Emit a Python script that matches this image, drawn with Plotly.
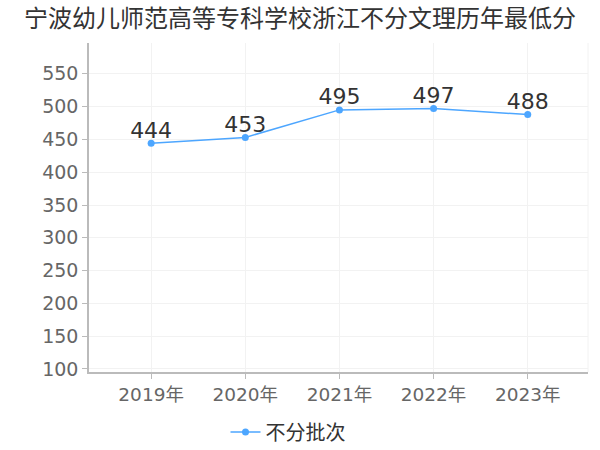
import plotly.graph_objects as go

title = "宁波幼儿师范高等专科学校浙江不分文理历年最低分"
years = ["2019年", "2020年", "2021年", "2022年", "2023年"]
scores = [444, 453, 495, 497, 488]
series_name = "不分批次"
y_ticks = [100, 150, 200, 250, 300, 350, 400, 450, 500, 550]

font_family = "DejaVu Sans, Noto Sans CJK SC, sans-serif"

W, H = 600, 450

fig = go.Figure()
fig.add_trace(go.Scatter(
    x=years, y=scores, name=series_name,
    mode="lines+markers",
    line=dict(color="#4da6ff", width=1.5),
    marker=dict(color="#4da6ff", size=7),
    showlegend=True,
))
fig.add_trace(go.Scatter(
    x=years, y=scores, name=series_name,
    mode="text",
    text=[str(v) for v in scores],
    textposition="top center",
    textfont=dict(size=22, color="#333333", family=font_family),
    showlegend=False, hoverinfo="skip",
))

fig.update_layout(
    width=W, height=H,
    paper_bgcolor="white", plot_bgcolor="white",
    margin=dict(l=89, r=12, t=43, b=78, autoexpand=False),
    title=dict(text=title, x=0.5, xanchor="center", xref="container",
               y=1 - 19 / H, yanchor="middle", yref="container",
               font=dict(size=24, color="#333333", family="Noto Sans CJK SC, sans-serif")),
    font=dict(family=font_family),
    xaxis=dict(
        type="category", range=[-0.66, 4.64], automargin=False,
        showgrid=True, gridcolor="#f2f2f2", gridwidth=1,
        showline=True, linecolor="#bbbbbb", linewidth=1.5,
        ticks="outside", ticklen=5, tickcolor="#bbbbbb",
        tickfont=dict(size=18.5, color="#666666", family=font_family),
        zeroline=False,
    ),
    yaxis=dict(
        range=[95.4, 597], tickvals=y_ticks, automargin=False,
        showgrid=True, gridcolor="#f2f2f2", gridwidth=1,
        showline=True, linecolor="#bbbbbb", linewidth=1.5,
        ticks="outside", ticklen=5, tickcolor="#bbbbbb",
        tickfont=dict(size=19, color="#666666", family=font_family),
        zeroline=False,
    ),
    legend=dict(orientation="h", x=0.5 - 12 / W, xanchor="center", xref="container",
                y=1 - 432 / H, yanchor="middle", yref="container",
                font=dict(size=20, color="#333333", family="Noto Sans CJK SC, sans-serif"),
                itemwidth=30),
    shapes=[dict(type="line", xref="paper", yref="paper", x0=1, x1=1, y0=0, y1=1,
                 line=dict(color="#f2f2f2", width=1))],
)

fig.write_html("out.html",
               config={"displayModeBar": False},
               post_script="document.body.style.margin='0';document.body.style.overflow='hidden';")
